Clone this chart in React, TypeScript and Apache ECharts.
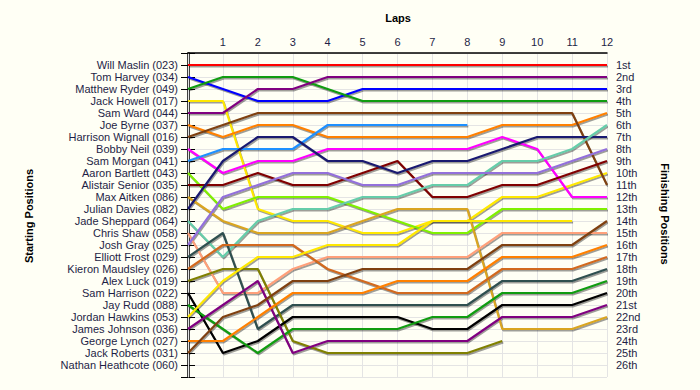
import React, { useEffect, useRef } from "react";
import * as echarts from "echarts";

const laps = [0, 1, 2, 3, 4, 5, 6, 7, 8, 9, 10, 11, 12];
const xTickLabels = ["", "1", "2", "3", "4", "5", "6", "7", "8", "9", "10", "11", "12"];

const startingNames = [
  "Will Maslin (023)", "Tom Harvey (034)", "Matthew Ryder (049)", "Jack Howell (017)",
  "Sam Ward (044)", "Joe Byrne (037)", "Harrison Wignall (016)", "Bobby Neil (039)",
  "Sam Morgan (041)", "Aaron Bartlett (043)", "Alistair Senior (035)", "Max Aitken (086)",
  "Julian Davies (082)", "Jade Sheppard (064)", "Chris Shaw (058)", "Josh Gray (025)",
  "Elliott Frost (029)", "Kieron Maudsley (026)", "Alex Luck (019)", "Sam Harrison (022)",
  "Jay Rudd (088)", "Jordan Hawkins (053)", "James Johnson (036)", "George Lynch (027)",
  "Jack Roberts (031)", "Nathan Heathcote (060)",
];

const finishingLabels = [
  "1st", "2nd", "3rd", "4th", "5th", "6th", "7th", "8th", "9th", "10th", "11th", "12th", "13th",
  "14th", "15th", "16th", "17th", "18th", "19th", "20th", "21st", "22nd", "23rd", "24th", "25th", "26th",
];

// positions per lap (lap 0 = starting position)
const willMaslin = [1, 1, 1, 1, 1, 1, 1, 1, 1, 1, 1, 1, 1];
const tomHarvey = [2, 3, 4, 4, 4, 3, 3, 3, 3, 3, 3, 3, 3];
const matthewRyder = [3, 2, 2, 2, 3, 4, 4, 4, 4, 4, 4, 4, 4];
const jackHowell = [4, 4, 13, 14, 14, 15, 15, 14, 14, 12, 12, 11, 10];
const samWard = [5, 5, 3, 3, 2, 2, 2, 2, 2, 2, 2, 2, 2];
const joeByrne = [6, 7, 6, 6, 7, 7, 7, 7, 7, 6, 6, 6, 5];
const harrisonWignall = [7, 6, 5, 5, 5, 5, 5, 5, 5, 5, 5, 5, 11];
const bobbyNeil = [8, 10, 9, 9, 8, 8, 8, 8, 8, 7, 8, 12, 12];
const samMorgan = [9, 8, 8, 8, 6, 6, 6, 6, 6];
const aaronBartlett = [10, 13, 12, 12, 12, 13, 14, 15, 15, 13, 13, 13, 13];
const alistairSenior = [11, 11, 10, 11, 11, 10, 9, 12, 12, 11, 11, 10, 9];
const maxAitken = [12, 14, 15, 15, 15, 14, 13, 13, 13, 23, 23, 23, 22];
const julianDavies = [13, 9, 7, 7, 9, 9, 10, 9, 9, 8, 7, 7, 7];
const jadeSheppard = [14, 17, 14, 13, 13, 12, 12, 11, 11, 9, 9, 8, 6];
const chrisShaw = [15, 20, 20, 18, 17, 17, 17, 17, 17, 15, 15, 15, 15];
const joshGray = [16, 12, 11, 10, 10, 11, 11, 10, 10, 10, 10, 9, 8];
const elliottFrost = [17, 15, 23, 21, 21, 21, 21, 21, 21, 19, 19, 19, 18];
const kieronMaudsley = [18, 16, 16, 16, 18, 19, 20, 20, 20, 18, 18, 18, 17];
const alexLuck = [19, 18, 18, 24, 25, 25, 25, 25, 25, 24];
const samHarrison = [20, 25, 24, 22, 22, 22, 22, 23, 23, 21, 21, 21, 20];
const jayRudd = [21, 23, 25, 23, 23, 23, 23, 22, 22, 20, 20, 20, 19];
const jordanHawkins = [22, 19, 17, 17, 16, 16, 16, 14, 14, 14, 14, 14];
const jamesJohnson = [23, 21, 19, 25, 24, 24, 24, 24, 24, 22, 22, 22, 21];
const georgeLynch = [24, 24, 22, 20, 20, 20, 19, 19, 19, 17, 17, 17, 16];
const jackRoberts = [25, 22, 21, 19, 19, 18, 18, 18, 18, 16, 16, 16, 14];
const nathanHeathcote: number[] = [];

const driverPositions = [
  willMaslin, tomHarvey, matthewRyder, jackHowell, samWard, joeByrne, harrisonWignall,
  bobbyNeil, samMorgan, aaronBartlett, alistairSenior, maxAitken, julianDavies, jadeSheppard,
  chrisShaw, joshGray, elliottFrost, kieronMaudsley, alexLuck, samHarrison, jayRudd,
  jordanHawkins, jamesJohnson, georgeLynch, jackRoberts, nathanHeathcote,
];

const driverColors = [
  "#FF0000", "#0000FF", "#109C10", "#FFE800", "#800080", "#FF8000", "#7F4010",
  "#FF00FF", "#1E90FF", "#80F000", "#800000", "#DAA520", "#191970", "#66CDAA",
  "#FFA07A", "#9370DB", "#2F4F4F", "#D2691E", "#808000", "#000000", "#109C10",
  "#FFE800", "#800080", "#FF8000", "#7F4010", "#FF0000",
];

export default function App() {
  const ref = useRef<HTMLDivElement>(null);

  useEffect(() => {
    if (!ref.current) return;
    const chart = echarts.init(ref.current, null, { renderer: "svg" });
    const textColor = "#1E1E46";
    const font = "'Liberation Sans', Arial, sans-serif";

    const gridW = 419;
    const gridH = 324;
    const shadowDx = (1 / gridW) * 12; // 1px in lap units
    const shadowDy = (1.5 / gridH) * 27; // 1.5px in position units

    const shadowSeries = startingNames.map((name, i) => ({
      name: name + " shadow",
      type: "line" as const,
      xAxisIndex: 1,
      yAxisIndex: 2,
      data: driverPositions[i].map((p, lap) => [laps[lap], p]),
      symbol: "none",
      silent: true,
      lineStyle: { color: "rgba(0,0,0,0.38)", width: 2 },
      emphasis: { disabled: true },
      z: 2,
    }));

    const lineSeries = startingNames.map((name, i) => ({
      name,
      type: "line" as const,
      data: driverPositions[i].map((p, lap) => [laps[lap], p]),
      symbol: "none",
      lineStyle: { color: driverColors[i], width: 2.2 },
      emphasis: { disabled: true },
      z: 3,
    }));

    const yAxisBase = {
      type: "value" as const,
      min: 0,
      max: 27,
      interval: 1,
      inverse: true,
      axisLine: { show: true, lineStyle: { color: "#000", width: 1.5 } },
      axisTick: { show: true, length: 7, lineStyle: { color: "#000", width: 1 } },
      splitLine: { show: true, lineStyle: { color: "#E4E4E4", width: 1 } },
    };

    chart.setOption({
      animation: false,
      backgroundColor: "#FFFFF5",
      textStyle: { fontFamily: font },
      grid: { left: 188, top: 53, width: gridW, height: gridH, containLabel: false },
      xAxis: [
        {
          type: "value",
          position: "top",
          min: 0,
          max: 12,
          interval: 1,
          axisLine: { show: true, lineStyle: { color: "#000", width: 1.5 } },
          axisTick: { show: false },
          axisLabel: {
            margin: 6,
            color: textColor,
            fontSize: 11,
            fontFamily: font,
            formatter: (v: number) => xTickLabels[v] ?? "",
          },
          splitLine: { show: true, lineStyle: { color: "#E4E4E4", width: 1 } },
          z: 1,
        },
        {
          type: "value",
          show: false,
          min: -shadowDx,
          max: 12 - shadowDx,
          splitLine: { show: false },
        },
      ],
      yAxis: [
        {
          ...yAxisBase,
          position: "left",
          axisLabel: {
            margin: 10,
            color: textColor,
            fontSize: 11,
            fontFamily: font,
            formatter: (v: number) => startingNames[v - 1] ?? "",
          },
        },
        {
          ...yAxisBase,
          position: "right",
          splitLine: { show: false },
          axisTick: { show: true, length: 6, lineStyle: { color: "#000", width: 1 } },
          axisLabel: {
            margin: 9,
            color: textColor,
            fontSize: 11,
            fontFamily: font,
            formatter: (v: number) => finishingLabels[v - 1] ?? "",
          },
        },
        {
          type: "value",
          show: false,
          inverse: true,
          min: -shadowDy,
          max: 27 - shadowDy,
          splitLine: { show: false },
        },
      ],
      graphic: [
        {
          type: "text",
          x: 398,
          y: 18,
          style: {
            text: "Laps",
            fill: "#000",
            font: `bold 11px ${font}`,
            textAlign: "center",
            textVerticalAlign: "middle",
          },
        },
        {
          type: "text",
          x: 29,
          y: 216,
          rotation: Math.PI / 2,
          style: {
            text: "Starting Positions",
            fill: "#000",
            font: `bold 11px ${font}`,
            textAlign: "center",
            textVerticalAlign: "middle",
          },
        },
        {
          type: "text",
          x: 665,
          y: 214,
          rotation: -Math.PI / 2,
          style: {
            text: "Finishing Positions",
            fill: "#000",
            font: `bold 11px ${font}`,
            textAlign: "center",
            textVerticalAlign: "middle",
          },
        },
      ],
      series: [...shadowSeries, ...lineSeries],
    });

    return () => chart.dispose();
  }, []);

  return (
    <div
      ref={ref}
      style={{ position: "absolute", left: 0, top: 0, width: 700, height: 390 }}
    />
  );
}
